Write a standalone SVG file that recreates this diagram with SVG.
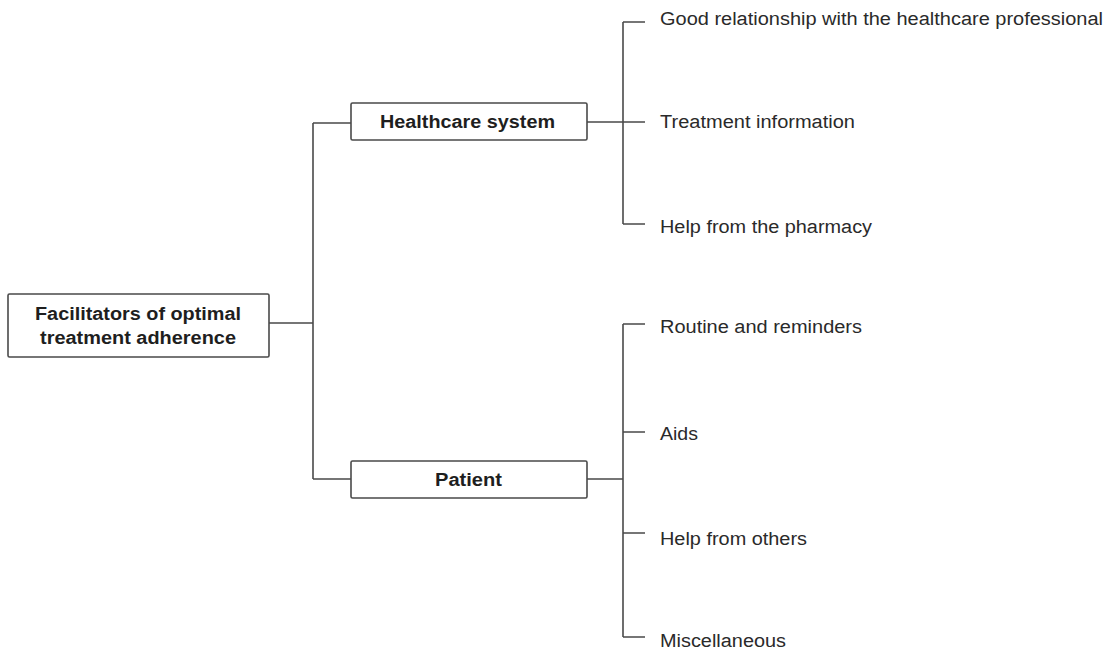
<svg xmlns="http://www.w3.org/2000/svg" width="1111" height="652" viewBox="0 0 1111 652">
<style>
.box{fill:#fff;stroke:#4a4a4a;stroke-width:1.6}
.ln{fill:none;stroke:#4a4a4a;stroke-width:1.6}
.b{font-family:"Liberation Sans",Arial,sans-serif;font-weight:bold;font-size:18px;fill:#1e1e1e}
.t{font-family:"Liberation Sans",Arial,sans-serif;font-size:18px;fill:#2a2a2a}
</style>
<rect width="1111" height="652" fill="#fff"/>
<g id="connectors">
<path class="ln" d="M269,323 H313 M313,123 V479 M313,123 H351 M313,479 H351"/>
<path class="ln" d="M587,122 H645 M623,22 V224 M623,22 H645 M623,224 H645"/>
<path class="ln" d="M587,479 H623 M623,324 V637 M623,324 H645 M623,432 H645 M623,533 H645 M623,637 H645"/>
</g>
<g id="root">
<rect class="box" x="8" y="294" width="261" height="63" rx="1.5"/>
<text class="b" x="35" y="320" textLength="206" lengthAdjust="spacingAndGlyphs">Facilitators of optimal</text>
<text class="b" x="40" y="344" textLength="196" lengthAdjust="spacingAndGlyphs">treatment adherence</text>
</g>
<g id="healthcare">
<rect class="box" x="351" y="103" width="236" height="37" rx="1.5"/>
<text class="b" x="380" y="128" textLength="175" lengthAdjust="spacingAndGlyphs">Healthcare system</text>
</g>
<g id="patient">
<rect class="box" x="351" y="461" width="236" height="37" rx="1.5"/>
<text class="b" x="435" y="486" textLength="67" lengthAdjust="spacingAndGlyphs">Patient</text>
</g>
<g id="leaf-good"><text class="t" x="660" y="25" textLength="443" lengthAdjust="spacingAndGlyphs">Good relationship with the healthcare professional</text></g>
<g id="leaf-info"><text class="t" x="660" y="128" textLength="195" lengthAdjust="spacingAndGlyphs">Treatment information</text></g>
<g id="leaf-pharmacy"><text class="t" x="660" y="233" textLength="212" lengthAdjust="spacingAndGlyphs">Help from the pharmacy</text></g>
<g id="leaf-routine"><text class="t" x="660" y="333" textLength="202" lengthAdjust="spacingAndGlyphs">Routine and reminders</text></g>
<g id="leaf-aids"><text class="t" x="660" y="440" textLength="38" lengthAdjust="spacingAndGlyphs">Aids</text></g>
<g id="leaf-others"><text class="t" x="660" y="545" textLength="147" lengthAdjust="spacingAndGlyphs">Help from others</text></g>
<g id="leaf-misc"><text class="t" x="660" y="647" textLength="126" lengthAdjust="spacingAndGlyphs">Miscellaneous</text></g>
</svg>
